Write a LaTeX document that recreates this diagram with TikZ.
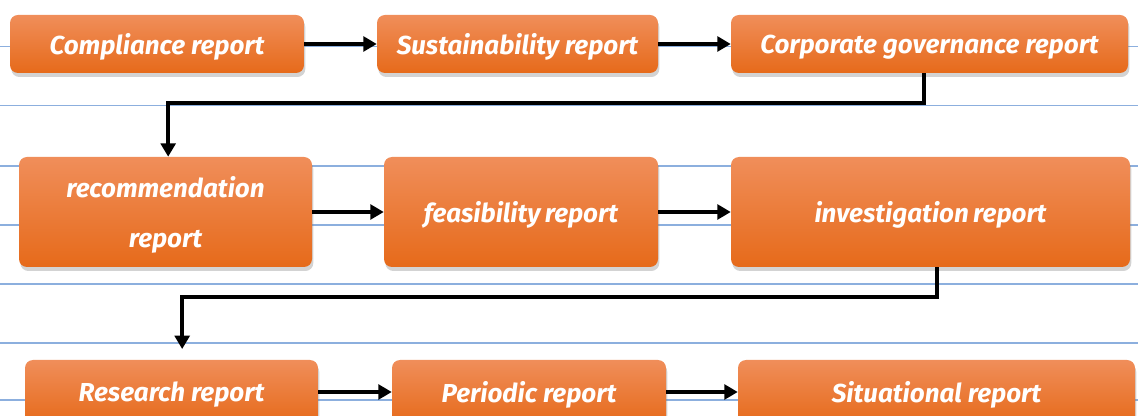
\documentclass[tikz,border=0pt]{standalone}
\usepackage{fontspec}
\setmainfont{Fira Sans}
\usetikzlibrary{arrows.meta,shadows}

\definecolor{ruleblue}{RGB}{140,175,222}
\definecolor{boxtop}{RGB}{240,142,90}
\definecolor{boxmid}{RGB}{244,128,46}
\definecolor{boxbot}{RGB}{230,106,26}

\tikzset{
  report/.style={rounded corners=6pt, top color=boxtop, middle color=boxmid, bottom color=boxbot,
    text=white, font=\fontsize{19.5}{37}\selectfont\bfseries\itshape, align=center, inner sep=0pt,
    text depth=0pt, drop shadow={opacity=0.35, shadow xshift=1pt, shadow yshift=-3pt}},
  flow/.style={line width=2.8pt, -{Triangle[length=10pt,width=11pt]}},
  ruling/.style={ruleblue, line width=0.8pt}
}

\begin{document}
\begin{tikzpicture}[x=0.75pt,y=0.75pt,yscale=-1,xscale=1]
    \useasboundingbox (0,0) rectangle (1138,416);
    \clip (0,0) rectangle (1138,416);

    %Ruled lines
    \foreach \y in {46.5,105.5,166,225,284,343,400}
      \draw [ruling] (0,\y) -- (1138,\y);

    %Shape: Rounded Rectangle [row 1]
    \node [report, minimum width=220.5pt, minimum height=43.5pt] (comp) at (157,44) {Compliance report};
    \node [report, minimum width=210.75pt, minimum height=43.5pt] (sust) at (517.5,44) {Sustainability report};
    \node [report, minimum width=297.75pt, minimum height=43.5pt] (corp) at (929.5,44) {Corporate governance report};
    %Shape: Rounded Rectangle [row 2]
    \node [report, minimum width=219.75pt, minimum height=82.5pt] (rec) at (165.5,212) {recommendation\\report};
    \node [report, minimum width=205.5pt, minimum height=82.5pt] (feas) at (521,212) {feasibility\,report};
    \node [report, minimum width=299.25pt, minimum height=82.5pt] (inv) at (930.5,212) {investigation\,report};
    %Shape: Rounded Rectangle [row 3]
    \node [report, minimum width=219.75pt, minimum height=48pt] (res) at (171.5,392) {Research report};
    \node [report, minimum width=205.5pt, minimum height=48pt] (per) at (529,392) {Periodic report};
    \node [report, minimum width=297.75pt, minimum height=48pt] (sit) at (936.5,392) {Situational report};

    %Straight Lines
    \draw [flow] (comp) -- (sust);
    \draw [flow] (sust) -- (corp);
    \draw [flow] ([xshift=-4pt]corp.south) -- ++(0,30) -| ([xshift=2pt]rec.north);
    \draw [flow] (rec) -- (feas);
    \draw [flow] (feas) -- (inv);
    \draw [flow, shorten >=8pt] ([xshift=5pt]inv.south) -- ++(0,30) -| ([xshift=8pt]res.north);
    \draw [flow] (res) -- (per);
    \draw [flow] (per) -- (sit);
\end{tikzpicture}
\end{document}
